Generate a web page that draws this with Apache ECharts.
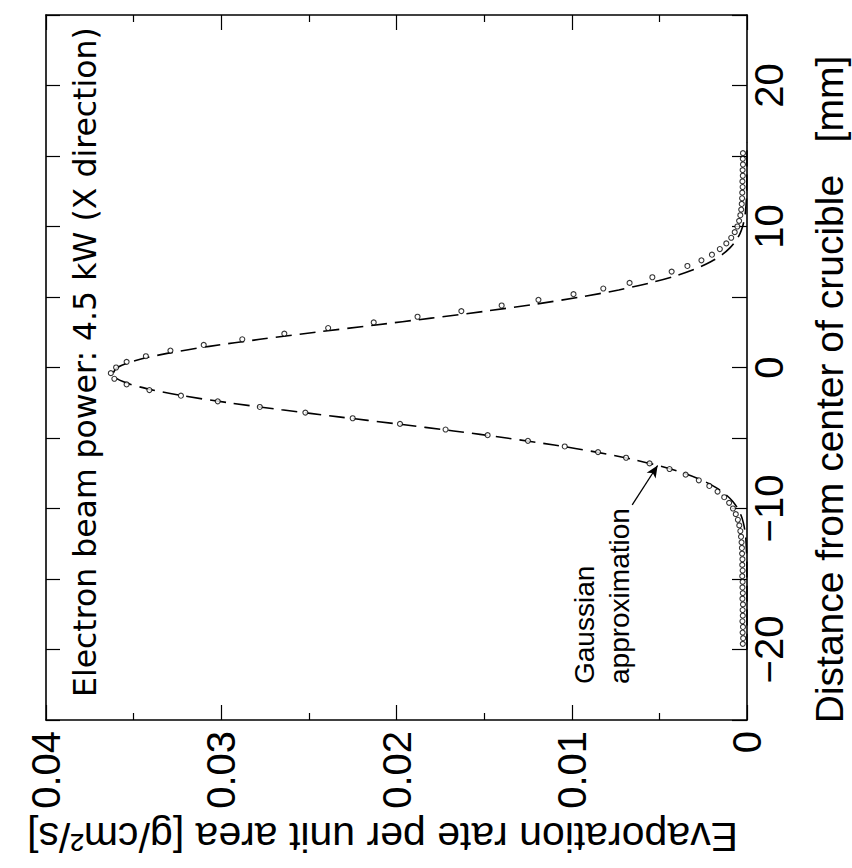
<!DOCTYPE html>
<html>
<head>
<meta charset="utf-8">
<script src="https://cdn.jsdelivr.net/npm/echarts@6/dist/echarts.min.js"></script>
<style>
html,body{margin:0;padding:0;background:#fff;}
#chart{width:852px;height:868px;}
</style>
</head>
<body>
<div id="chart"></div>
<script>
// ---- data ----
const titleText = 'Electron beam power: 4.5 kW (X direction)';
const rateAxisName = 'Evaporation rate per unit area [g/cm\u00b2/s]';
const distanceAxisName = 'Distance from center of crucible   [mm]';
const annotationText = 'Gaussian\napproximation';

const rateTickLabels = ['0', '0.01', '0.02', '0.03', '0.04'];
const distanceTickLabels = ['\u221220', '\u221210', '0', '10', '20'];
const distanceTickValues = [-20, -10, 0, 10, 20];

// Gaussian approximation (dashed line): distance [mm] and rate [g/cm2/s]
const gaussDistance = [-20, -16, -14, -13, -12, -11.5, -11, -10.5, -10, -9.5, -9, -8.5, -8, -7.5, -7, -6.5, -6, -5.5, -5, -4.5, -4, -3.5, -3, -2.5, -2, -1.5, -1, -0.5, 0, 0.5, 1, 1.5, 2, 2.5, 3, 3.5, 4, 4.5, 5, 5.5, 6, 6.5, 7, 7.5, 8, 8.5, 9, 9.5, 10, 10.5, 11, 12, 13, 16];
const gaussRate = [0, 0, 0.00001, 0.00003, 0.000075, 0.00013, 0.00021, 0.000335, 0.00053, 0.00081, 0.00122, 0.00179, 0.00256, 0.00359, 0.00491, 0.00658, 0.0086, 0.011, 0.01372, 0.01674, 0.01998, 0.0233, 0.02655, 0.02958, 0.0322, 0.03426, 0.03561, 0.03618, 0.03593, 0.03488, 0.03309, 0.03068, 0.02779, 0.02461, 0.0213, 0.01802, 0.01489, 0.01203, 0.0095, 0.00732, 0.00553, 0.00407, 0.00293, 0.00207, 0.00142, 0.00096, 0.00063, 0.0004, 0.00025, 0.000155, 0.000093, 0.00003, 0.00001, 0];

// measured points (open circles)
const measuredDistance = [-19.6, -19.2, -18.8, -18.4, -18.0, -17.6, -17.2, -16.8, -16.4, -16.0, -15.6, -15.2, -14.8, -14.4, -14.0, -13.6, -13.2, -12.8, -12.4, -12.0, -11.6, -11.2, -10.8, -10.4, -10.0, -9.6, -9.2, -8.8, -8.4, -8.0, -7.6, -7.2, -6.8, -6.4, -6.0, -5.6, -5.2, -4.8, -4.4, -4.0, -3.6, -3.2, -2.8, -2.4, -2.0, -1.6, -1.2, -0.8, -0.4, 0.0, 0.4, 0.8, 1.2, 1.6, 2.0, 2.4, 2.8, 3.2, 3.6, 4.0, 4.4, 4.8, 5.2, 5.6, 6.0, 6.4, 6.8, 7.2, 7.6, 8.0, 8.4, 8.8, 9.2, 9.6, 10.0, 10.4, 10.8, 11.2, 11.6, 12.0, 12.4, 12.8, 13.2, 13.6, 14.0, 14.4, 14.8, 15.2];
const measuredRate = [0.00024, 0.00022, 0.00025, 0.00023, 0.00026, 0.00024, 0.00025, 0.00023, 0.00026, 0.00024, 0.00026, 0.00025, 0.00027, 0.00025, 0.00027, 0.00026, 0.00028, 0.00029, 0.00031, 0.00034, 0.00038, 0.00044, 0.00052, 0.00064, 0.0008, 0.00102, 0.0013, 0.00168, 0.00215, 0.00275, 0.0035, 0.00442, 0.00556, 0.0069, 0.0085, 0.0104, 0.0125, 0.0148, 0.0172, 0.0198, 0.0225, 0.0252, 0.0278, 0.0302, 0.0323, 0.0341, 0.0354, 0.0361, 0.0363, 0.036, 0.0354, 0.0343, 0.0329, 0.031, 0.0288, 0.0264, 0.0239, 0.0213, 0.0188, 0.0163, 0.014, 0.0119, 0.0099, 0.0082, 0.0067, 0.0054, 0.0043, 0.0034, 0.0026, 0.002, 0.00155, 0.00118, 0.0009, 0.0007, 0.00055, 0.00045, 0.00038, 0.00033, 0.0003, 0.00028, 0.00027, 0.00025, 0.00026, 0.00024, 0.00025, 0.00023, 0.00024, 0.00023];

// arrow of the annotation: [rate, distance] from -> to
const arrowFrom = [0.00655, -9.75];
const arrowTo = [0.0051, -6.95];

// ---- chart ----
const FONT = '"Liberation Sans", Arial, Helvetica, sans-serif';
const TITLE_FONT = '"DejaVu Sans", "Liberation Sans", sans-serif';
const gaussData = gaussDistance.map((d, i) => [gaussRate[i], d]);
const measuredData = measuredDistance.map((d, i) => [measuredRate[i], d]);

function rateLabel(v) {
  const i = Math.round(v / 0.01);
  return (Math.abs(v - i * 0.01) < 1e-9 && i >= 0 && i < rateTickLabels.length) ? rateTickLabels[i] : '';
}
function distanceLabel(v) {
  const i = distanceTickValues.indexOf(Math.round(v));
  return (i >= 0 && Math.abs(v - distanceTickValues[i]) < 1e-9) ? distanceTickLabels[i] : '';
}

const axisLine = { show: true, onZero: false, lineStyle: { color: '#000', width: 1.6 } };

const chart = echarts.init(document.getElementById('chart'), null, { renderer: 'svg' });
chart.setOption({
  animation: false,
  backgroundColor: '#fff',
  textStyle: { fontFamily: FONT, color: '#000' },
  grid: { left: 46, right: 105, top: 15, bottom: 148, containLabel: false, outerBoundsMode: 'none' },
  xAxis: [
    {
      type: 'value', position: 'bottom', inverse: true, min: 0, max: 0.04, interval: 0.01,
      axisLine: axisLine,
      axisTick: { show: true, inside: true, length: 15, lineStyle: { color: '#000', width: 1.2 } },
      minorTick: { show: true, splitNumber: 2, length: 7, lineStyle: { color: '#000', width: 1.2 } },
      splitLine: { show: false },
      axisLabel: { show: true, rotate: 90, margin: 11, fontSize: 40, fontFamily: FONT, color: '#000', formatter: rateLabel },
      name: rateAxisName, nameLocation: 'middle', nameRotate: 180, nameGap: 95,
      nameTextStyle: { fontSize: 41, fontFamily: FONT, color: '#000', padding: [0, 0, 0, 28] }
    },
    {
      type: 'value', position: 'top', inverse: true, min: 0, max: 0.04, interval: 0.01,
      axisLine: axisLine,
      axisTick: { show: true, inside: true, length: 15, lineStyle: { color: '#000', width: 1.2 } },
      minorTick: { show: true, splitNumber: 2, length: 7, lineStyle: { color: '#000', width: 1.2 } },
      splitLine: { show: false },
      axisLabel: { show: false }
    }
  ],
  yAxis: [
    {
      type: 'value', position: 'right', min: -25, max: 25, interval: 5,
      axisLine: axisLine,
      axisTick: { show: true, inside: true, length: 15, lineStyle: { color: '#000', width: 1.2 } },
      splitLine: { show: false },
      axisLabel: { show: true, rotate: 90, margin: 2, fontSize: 40, fontFamily: FONT, color: '#000', formatter: distanceLabel },
      name: distanceAxisName, nameLocation: 'middle', nameRotate: 90, nameGap: 63,
      nameTextStyle: { fontSize: 39, fontFamily: FONT, color: '#000', padding: [0, 44, 0, 0] }
    },
    {
      type: 'value', position: 'left', min: -25, max: 25, interval: 5,
      axisLine: axisLine,
      axisTick: { show: true, inside: true, length: 14, lineStyle: { color: '#000', width: 1.2 } },
      splitLine: { show: false },
      axisLabel: { show: false }
    }
  ],
  series: [
    {
      name: 'Gaussian approximation', type: 'line', xAxisIndex: 0, yAxisIndex: 0,
      data: gaussData, smooth: 0.3, showSymbol: false, symbol: 'none',
      lineStyle: { color: '#000', width: 1.6, type: [16, 8] },
      z: 3,
      markLine: {
        silent: true, animation: false,
        symbol: ['none', 'arrow'], symbolSize: [8, 12],
        label: { show: false },
        lineStyle: { color: '#000', width: 1.3, type: 'solid' },
        data: [[{ coord: arrowFrom }, { coord: arrowTo }]]
      }
    },
    {
      name: 'Measured', type: 'scatter', xAxisIndex: 0, yAxisIndex: 0,
      data: measuredData, symbol: 'circle', symbolSize: 5,
      itemStyle: { color: '#fff', borderColor: '#000', borderWidth: 1.1 },
      z: 4
    }
  ],
  graphic: [
    {
      type: 'text', x: 85, y: 697, rotation: Math.PI / 2, silent: true,
      style: { text: titleText, font: '31.5px ' + TITLE_FONT, fill: '#000', align: 'left', verticalAlign: 'middle', textAlign: 'left', textVerticalAlign: 'middle' }
    },
    {
      type: 'text', x: 602, y: 684, rotation: Math.PI / 2, silent: true,
      style: { text: annotationText, font: '28px ' + FONT, fill: '#000', lineHeight: 35, align: 'left', verticalAlign: 'middle', textAlign: 'left', textVerticalAlign: 'middle' }
    }
  ]
});
</script>
</body>
</html>
